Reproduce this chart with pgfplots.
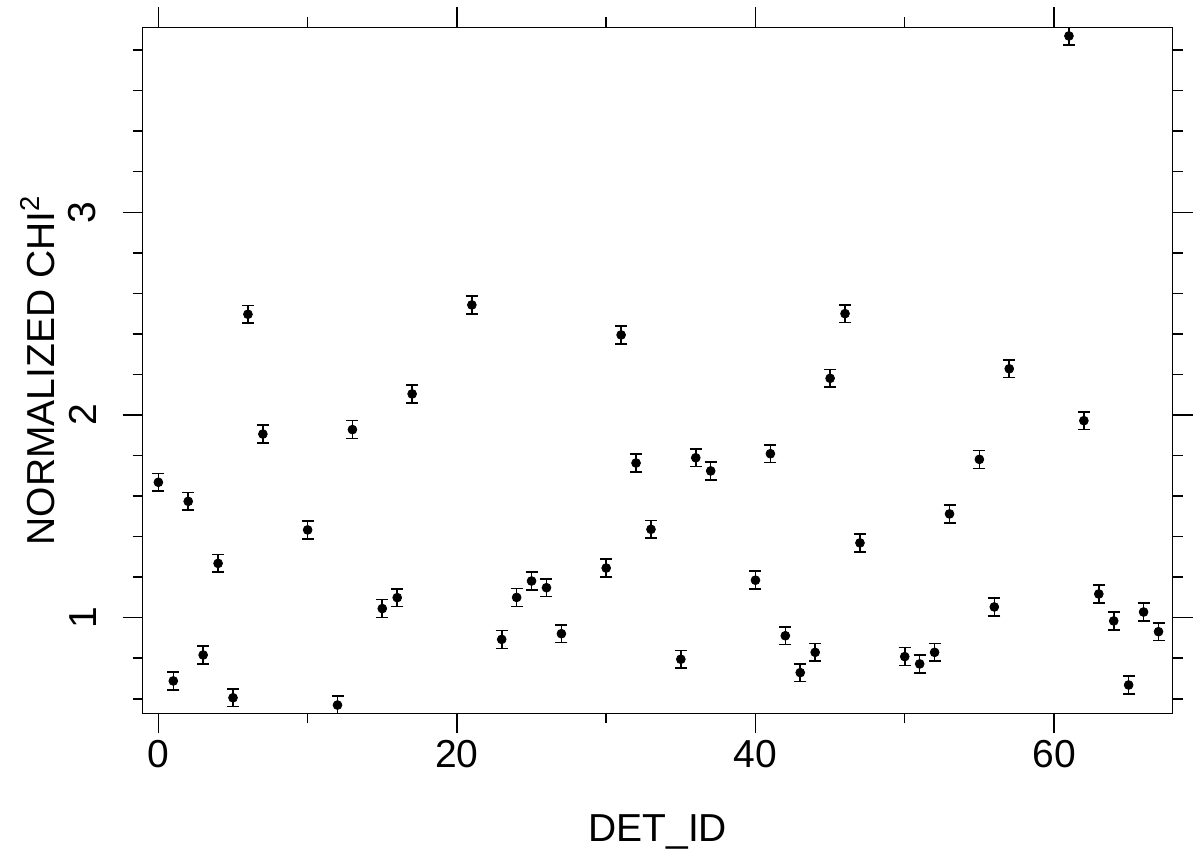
\documentclass[border=0pt]{standalone}
\usepackage{fontspec}
\setmainfont{Liberation Sans}
\usepackage{pgfplots}
\usepackage{pgfplotstable}
\pgfplotsset{compat=1.18}
\pgfplotstableread{
x y ey
0 1.668 0.044
1 0.688 0.044
2 1.574 0.044
3 0.816 0.044
4 1.268 0.044
5 0.605 0.044
6 2.497 0.044
7 1.906 0.044
10 1.433 0.044
12 0.569 0.044
13 1.928 0.044
15 1.045 0.044
16 1.099 0.044
17 2.104 0.044
21 2.543 0.044
23 0.893 0.044
24 1.100 0.044
25 1.181 0.044
26 1.148 0.044
27 0.921 0.044
30 1.245 0.044
31 2.395 0.044
32 1.763 0.044
33 1.436 0.044
35 0.795 0.044
36 1.789 0.044
37 1.724 0.044
40 1.185 0.044
41 1.809 0.044
42 0.911 0.044
43 0.729 0.044
44 0.829 0.044
45 2.181 0.044
46 2.500 0.044
47 1.369 0.044
50 0.808 0.044
51 0.772 0.044
52 0.829 0.044
53 1.512 0.044
55 1.781 0.044
56 1.053 0.044
57 2.228 0.044
61 3.870 0.044
62 1.972 0.044
63 1.117 0.044
64 0.984 0.044
65 0.668 0.044
66 1.028 0.044
67 0.931 0.044
}\chidata
\begin{document}
\begin{tikzpicture}[font=\fontsize{19.5}{23}\selectfont]
\useasboundingbox (-71.35pt,-73.35pt) rectangle (528.65pt,356.65pt);
\begin{axis}[
  scale only axis,
  width=515pt, height=343pt,
  xmin=-1.05, xmax=67.95,
  ymin=0.5284, ymax=3.9127,
  xtick={0,20,40,60},
  minor xtick={10,30,50},
  ytick={1,2,3},
  minor ytick={0.6,0.8,1.2,1.4,1.6,1.8,2.2,2.4,2.6,2.8,3.2,3.4,3.6,3.8},
  tick align=outside,
  major tick length=10pt,
  minor tick length=5pt,
  axis line style={line width=0.75pt},
  every tick/.style={line width=0.75pt, black},
  /pgf/number format/assume math mode=true,
  xticklabel style={font=\fontsize{19.5}{23}\selectfont},
  yticklabel style={font=\fontsize{19.5}{23}\selectfont, rotate=90, anchor=south, inner ysep=13pt},
  xlabel={DET\_ID},
  ylabel={NORMALIZED CHI\textsuperscript{2}},
  xlabel style={at={(axis description cs:0.5,-0.173)}, anchor=center},
  ylabel style={at={(axis description cs:-0.1017,0.5)}, anchor=center, rotate=0},
]
\addplot[only marks, mark=*, mark size=2.2pt, black,
  error bars/.cd, y dir=both, y explicit,
  error bar style={line width=0.8pt, black},
  error mark options={mark size=3pt, line width=0.8pt, black, rotate=90}]
  table[x=x, y=y, y error=ey] {\chidata};
\end{axis}
\end{tikzpicture}
\end{document}
